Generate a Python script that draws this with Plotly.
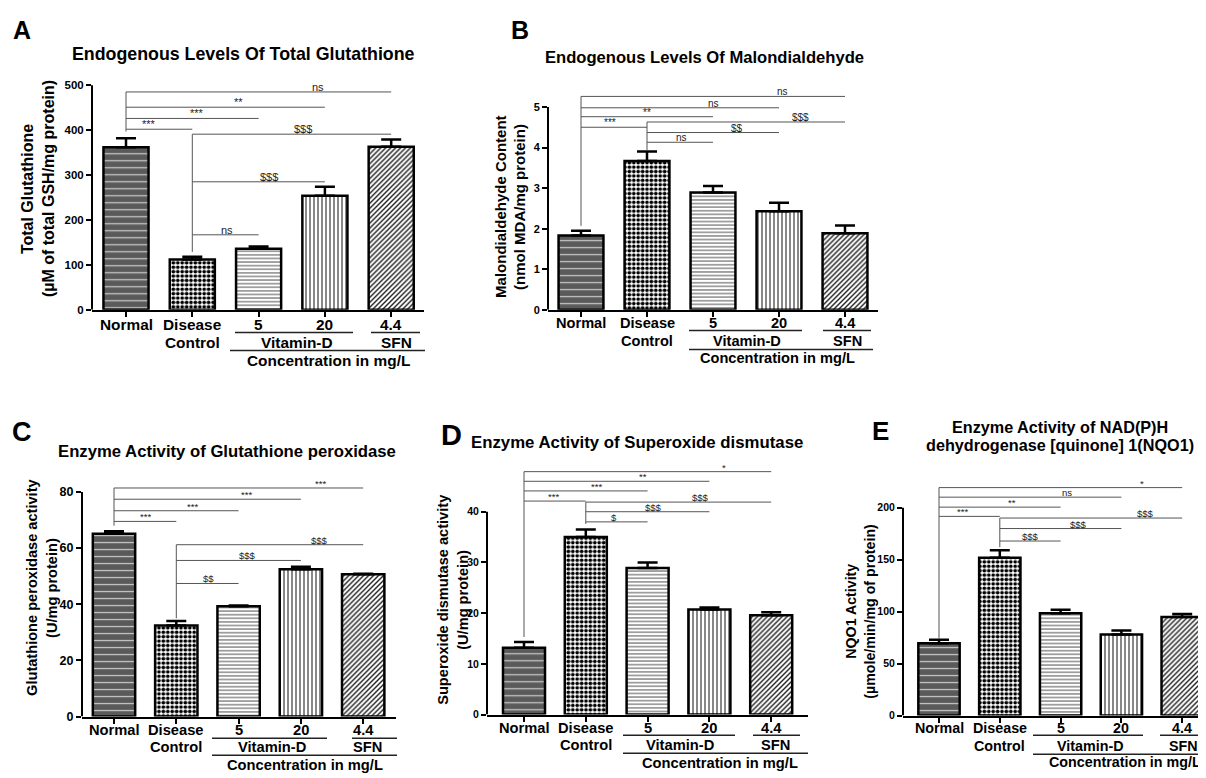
import plotly.graph_objects as go

W, H = 1206, 778          # screenshot size
OFF = 8                   # page body margin offset
FW, FH = W - OFF, H - OFF # figure size
FONT = "Liberation Sans, Arial, Helvetica, sans-serif"

# ---------------- data ----------------
groups = ["Normal", "Disease Control", "Vitamin-D 5", "Vitamin-D 20", "SFN 4.4"]
row1_labels = ["Normal", "Disease", "5", "20", "4.4"]
row2_labels = ["", "Control", "", "", ""]
vit_label = "Vitamin-D"
sfn_label = "SFN"
conc_label = "Concentration in mg/L"

a_mean = [362, 112, 136, 254, 363]
a_err = [20, 6, 5, 20, 16]
b_mean = [1.83, 3.67, 2.89, 2.43, 1.89]
b_err = [0.12, 0.23, 0.16, 0.21, 0.19]
c_mean = [65.1, 32.4, 39.3, 52.5, 50.7]
c_err = [0.9, 1.6, 0.3, 0.9, 0.2]
d_mean = [13.2, 35.0, 28.9, 20.7, 19.6]
d_err = [1.1, 1.5, 1.1, 0.4, 0.6]
e_mean = [69.7, 151.9, 98.4, 78.0, 94.9]
e_err = [3.2, 7.3, 3.5, 3.8, 2.9]

# significance brackets: (y level, from group, to group, label, label position)
a_sig = [(485, 0, 4, "ns", 2.90), (451, 0, 3, "**", 1.70), (426, 0, 2, "***", 1.07),
         (402, 0, 1, "***", 0.35), (391, 1, 4, "$$$", 2.67), (285, 1, 3, "$$$", 2.16),
         (167, 1, 2, "ns", 1.52)]
a_drop = [(0, 485, 397), (1, 391, 129)]
b_sig = [(5.26, 0, 4, "ns", 3.05), (4.98, 0, 3, "ns", 2.0), (4.76, 0, 2, "**", 1.0),
         (4.50, 0, 1, "***", 0.44), (4.63, 1, 4, "$$$", 3.33), (4.37, 1, 3, "$$", 2.36),
         (4.13, 1, 2, "ns", 1.53)]
b_drop = [(0, 5.26, 2.07), (1, 4.63, 3.94)]
c_sig = [(81.4, 0, 4, "***", 3.31), (77.4, 0, 3, "***", 2.13), (73.3, 0, 2, "***", 1.26),
         (69.5, 0, 1, "***", 0.50), (61.2, 1, 4, "$$$", 3.30), (55.6, 1, 3, "$$$", 2.14),
         (47.4, 1, 2, "$$", 1.51)]
c_drop = [(0, 81.4, 68), (1, 61.2, 35)]
d_sig = [(47.9, 0, 4, "*", 3.24), (46.0, 0, 3, "**", 1.93), (44.1, 0, 2, "***", 1.18),
         (42.1, 0, 1, "***", 0.47), (41.9, 1, 4, "$$$", 2.86), (40.0, 1, 3, "$$$", 2.1),
         (38.0, 1, 2, "$", 1.46)]
d_drop = [(0, 47.9, 15.3), (1, 41.9, 37.6)]
e_sig = [(219.4, 0, 4, "*", 3.34), (210.2, 0, 3, "ns", 2.1), (200.6, 0, 2, "**", 1.2),
         (191.7, 0, 1, "***", 0.39), (190.1, 1, 4, "$$$", 3.39), (180, 1, 3, "$$$", 2.29),
         (168, 1, 2, "$$$", 1.5)]
e_drop = [(0, 219.4, 74), (1, 190.1, 162)]

titles = [["Endogenous Levels Of Total Glutathione"],
          ["Endogenous Levels Of Malondialdehyde"],
          ["Enzyme Activity of Glutathione peroxidase"],
          ["Enzyme Activity of Superoxide dismutase"],
          ["Enzyme Activity of NAD(P)H", "dehydrogenase [quinone] 1(NQO1)"]]
ytitles = [["Total Glutathione", "(µM of total GSH/mg protein)"],
           ["Malondialdehyde Content", "(nmol MDA/mg protein)"],
           ["Glutathione peroxidase activity", "(U/mg protein)"],
           ["Superoxide dismutase activity", "(U/mg protein)"],
           ["NQO1 Activity", "(µmole/min/mg of protein)"]]
letters = ["A", "B", "C", "D", "E"]
a_ticks = [0, 100, 200, 300, 400, 500]
b_ticks = [0, 1, 2, 3, 4, 5]
c_ticks = [0, 20, 40, 60, 80]
d_ticks = [0, 10, 20, 30, 40]
e_ticks = [0, 50, 100, 150, 200]

# ---------------- layout geometry (screen pixels) ----------------
panels = [
    dict(mean=a_mean, err=a_err, sig=a_sig, drop=a_drop, ticks=a_ticks,
         left=92, right=424, c0=126, sp=66.3, zero=312, refpx=85, top=80,
         row1=327, row2=345, ul_y=335, vit=(235, 353), sfn=(371, 420), long_y=353,
         long=(230, 425), conc_y=363, vit_cx=297, sfn_cx=396, conc_cx=328,
         letter_xy=(22, 29), lsize=25, title_xy=[(243, 53)], tsize=17.8,
         yt_x=(27, 48), yt_cy=190, ytsize=16, cat=15.4, tick=11.5, sigsize=11),
    dict(mean=b_mean, err=b_err, sig=b_sig, drop=b_drop, ticks=b_ticks,
         left=548, right=878, c0=581, sp=66, zero=312, refpx=107, top=90,
         row1=325, row2=343, ul_y=333, vit=(689, 802), sfn=(823, 871), long_y=352,
         long=(689, 873), conc_y=361, vit_cx=747, sfn_cx=847, conc_cx=777,
         letter_xy=(520, 29), lsize=25, title_xy=[(704, 57)], tsize=16.6,
         yt_x=(501, 520), yt_cy=208, ytsize=15, cat=14.6, tick=11, sigsize=10),
    dict(mean=c_mean, err=c_err, sig=c_sig, drop=c_drop, ticks=c_ticks,
         left=82, right=396, c0=114, sp=62.3, zero=723, refpx=496, top=480,
         row1=737, row2=754, ul_y=745, vit=(212, 327), sfn=(352, 397), long_y=762,
         long=(212, 397), conc_y=772, vit_cx=272, sfn_cx=367, conc_cx=305,
         letter_xy=(22, 435), lsize=27, title_xy=[(227, 455)], tsize=16.7,
         yt_x=(32, 52), yt_cy=593, ytsize=14.6, cat=14.7, tick=12.5, sigsize=9.5),
    dict(mean=d_mean, err=d_err, sig=d_sig, drop=d_drop, ticks=d_ticks,
         left=487, right=808, c0=524, sp=61.8, zero=721, refpx=516, top=465,
         row1=735, row2=752, ul_y=742, vit=(623, 735), sfn=(753, 800), long_y=760,
         long=(623, 808), conc_y=770, vit_cx=680, sfn_cx=775, conc_cx=720,
         letter_xy=(451, 438), lsize=29, title_xy=[(637, 446)], tsize=16.8,
         yt_x=(443, 463), yt_cy=605, ytsize=14.6, cat=14.7, tick=10.5, sigsize=9.5),
    dict(mean=e_mean, err=e_err, sig=e_sig, drop=e_drop, ticks=e_ticks,
         left=903, right=1206, c0=939, sp=60.8, zero=722, refpx=512, top=480,
         row1=735, row2=753, ul_y=742, vit=(1033, 1143), sfn=(1160, 1206), long_y=761,
         long=(1033, 1206), conc_y=769, vit_cx=1090, sfn_cx=1183, conc_cx=1125,
         letter_xy=(880, 434), lsize=26, title_xy=[(1060, 430), (1060, 449)], tsize=16.2,
         yt_x=(851, 870), yt_cy=617, ytsize=14.2, cat=14.3, tick=10.5, sigsize=9.5),
]

pat_shape = ["-", ".", "-", "|", "/"]
pat_size = [7, 4.4, 3.6, 4, 3.5]
pat_solid = [0.18, 0.55, 0.22, 0.25, 0.4]
pat_fg = ["#c8c8c8", "black", "#222", "#111", "#222"]
pat_bg = ["#5a5a5a", "white", "white", "white", "white"]


def PX(v):
    return (v - OFF) / FW


def PY(v):
    return 1 - (v - OFF) / FH


fig = go.Figure()
shapes, annots, axes = [], [], {}


def txt(x, y, s, size, xref="paper", yref="paper", angle=0, bold=True, color="black"):
    annots.append(dict(x=x, y=y, xref=xref, yref=yref, text=("<b>%s</b>" % s) if bold else s,
                       showarrow=False, xanchor="center", yanchor="middle", textangle=angle,
                       font=dict(family=FONT, size=size, color=color)))


for i, p in enumerate(panels):
    n = "" if i == 0 else str(i + 1)
    xa, ya = "x" + n, "y" + n
    refv = p["ticks"][-1]
    ppu = (p["zero"] - p["refpx"]) / refv
    ymax = (p["zero"] - p["top"]) / ppu
    xmin = (p["left"] - p["c0"]) / p["sp"]
    xmax = (p["right"] - p["c0"]) / p["sp"]
    xs = list(range(len(groups)))

    fig.add_trace(go.Bar(
        x=xs, y=p["mean"], width=0.68, xaxis=xa, yaxis=ya, showlegend=False,
        hovertext=groups, hoverinfo="text+y",
        marker=dict(color="white", line=dict(color="black", width=2.5),
                    pattern=dict(shape=pat_shape, size=pat_size, solidity=pat_solid,
                                 fgcolor=pat_fg, bgcolor=pat_bg, fillmode="replace")),
        error_y=dict(type="data", symmetric=False, array=p["err"],
                     arrayminus=[0] * len(xs), color="black", thickness=2.5, width=10),
    ))

    axes["xaxis" + n] = dict(
        domain=[PX(p["left"]), PX(p["right"])], range=[xmin, xmax], anchor=ya,
        showline=True, linecolor="black", linewidth=2, ticks="outside",
        tickvals=xs, ticklen=5, tickwidth=2, tickcolor="black",
        showticklabels=False, showgrid=False, zeroline=False, fixedrange=True)
    axes["yaxis" + n] = dict(
        domain=[PY(p["zero"]), PY(p["top"])], range=[0, ymax], anchor=xa,
        showline=False, ticks="outside", tickvals=p["ticks"], ticklen=5,
        tickwidth=2, tickcolor="black", showgrid=False, zeroline=False,
        tickfont=dict(family=FONT, size=p["tick"], color="black", weight="bold"),
        fixedrange=True)

    # y axis line (only up to the top tick)
    shapes.append(dict(type="line", xref=xa + " domain", yref=ya, x0=0, x1=0,
                       y0=0, y1=refv, line=dict(color="black", width=2)))

    # significance brackets
    for (yv, g0, g1, lab, lx) in p["sig"]:
        shapes.append(dict(type="line", xref=xa, yref=ya, x0=g0, x1=g1, y0=yv, y1=yv,
                           line=dict(color="#555", width=1)))
        annots.append(dict(x=lx, y=yv, xref=xa, yref=ya, text=lab, showarrow=False,
                           yanchor="bottom", xanchor="center", yshift=-3,
                           font=dict(family=FONT, size=p["sigsize"], color="#222")))
    for (g, y0, y1) in p["drop"]:
        shapes.append(dict(type="line", xref=xa, yref=ya, x0=g, x1=g, y0=y0, y1=y1,
                           line=dict(color="#555", width=1)))

    # category labels
    for k in xs:
        txt(k, PY(p["row1"]), row1_labels[k], p["cat"], xref=xa)
        if row2_labels[k]:
            txt(k, PY(p["row2"]), row2_labels[k], p["cat"], xref=xa)
    for (x0, x1, yy) in [(p["vit"][0], p["vit"][1], p["ul_y"]),
                         (p["sfn"][0], p["sfn"][1], p["ul_y"]),
                         (p["long"][0], p["long"][1], p["long_y"])]:
        shapes.append(dict(type="line", xref="paper", yref="paper", x0=PX(x0), x1=PX(x1),
                           y0=PY(yy), y1=PY(yy), line=dict(color="#222", width=1.5)))
    txt(PX(p["vit_cx"]), PY(p["row2"]), vit_label, p["cat"])
    txt(PX(p["sfn_cx"]), PY(p["row2"]), sfn_label, p["cat"])
    txt(PX(p["conc_cx"]), PY(p["conc_y"]), conc_label, p["cat"])

    # panel letter, title, y titles
    txt(PX(p["letter_xy"][0]), PY(p["letter_xy"][1]), letters[i], p["lsize"])
    for t, (tx, ty) in zip(titles[i], p["title_xy"]):
        txt(PX(tx), PY(ty), t, p["tsize"])
    for t, tx in zip(ytitles[i], p["yt_x"]):
        txt(PX(tx), PY(p["yt_cy"]), t, p["ytsize"], angle=-90)

fig.update_layout(
    width=FW, height=FH, margin=dict(l=0, r=0, t=0, b=0),
    paper_bgcolor="white", plot_bgcolor="white",
    font=dict(family=FONT, color="black"),
    shapes=shapes, annotations=annots, **axes)

fig.write_html("out.html")
